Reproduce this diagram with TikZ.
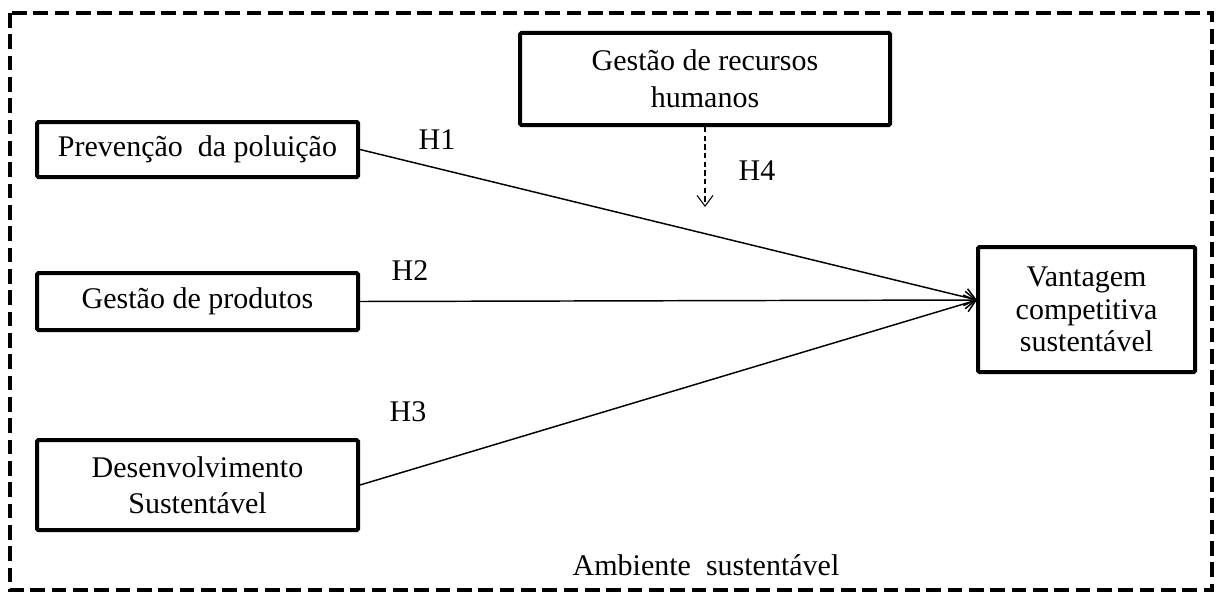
\documentclass[tikz,border=0pt]{standalone}
\usepackage{fontspec}
\setmainfont{Liberation Serif}
\usetikzlibrary{arrows.meta}
\begin{document}
\begin{tikzpicture}[x=0.75pt,y=-0.75pt,
  box/.style={draw,line width=3pt,rounded corners=1pt,inner sep=0pt,align=center,
    font=\fontsize{22.5}{27}\selectfont},
  lbl/.style={inner sep=0pt,font=\fontsize{22.5}{24}\selectfont},
  conn/.style={line width=1.1pt,-{Straight Barb[length=8pt,width=13pt,line width=1.1pt]}},
  frame/.style={line width=3pt,dash pattern=on 11pt off 5pt}]
\useasboundingbox (0,0) rectangle (1216,592);
\draw[frame] (10,13) rectangle (1212,590);
\node[box,minimum width=321*0.75pt,minimum height=55*0.75pt] (pp) at (197.5,149.5) {Preven\c{c}\~ao\ \ da polui\c{c}\~ao};
\node[box,minimum width=321*0.75pt,minimum height=57*0.75pt] (gp) at (197.5,301.5) {Gest\~ao de produtos};
\node[box,minimum width=321*0.75pt,minimum height=90*0.75pt] (ds) at (197.5,485) {Desenvolvimento\\Sustent\'avel};
\node[box,minimum width=370*0.75pt,minimum height=92*0.75pt,font=\fontsize{22.5}{28}\selectfont] (grh) at (705,79) {Gest\~ao de recursos\\humanos};
\node[box,minimum width=217*0.75pt,minimum height=125*0.75pt,font=\fontsize{22.5}{24.5}\selectfont] (vcs) at (1086.5,309.5) {Vantagem\\competitiva\\sustent\'avel};
\coordinate (tip) at (977,300);
\coordinate (h4end) at (705,207);
\draw[conn] (pp.east) -- (tip);
\draw[conn] (gp.east) -- (tip);
\draw[conn] (ds.east) -- (tip);
\draw[line width=0.8pt,dash pattern=on 4pt off 2.5pt,-{Straight Barb[length=8pt,width=12pt,line width=0.8pt]}] (grh.south) -- (h4end);
\node[lbl] (h1) at (437,140) {H1};
\node[lbl] (h2) at (410,271) {H2};
\node[lbl] (h3) at (408,412) {H3};
\node[lbl] (h4) at (757,171) {H4};
\node[lbl] (amb) at (706,565) {Ambiente\ \ sustent\'avel};
\end{tikzpicture}
\end{document}
